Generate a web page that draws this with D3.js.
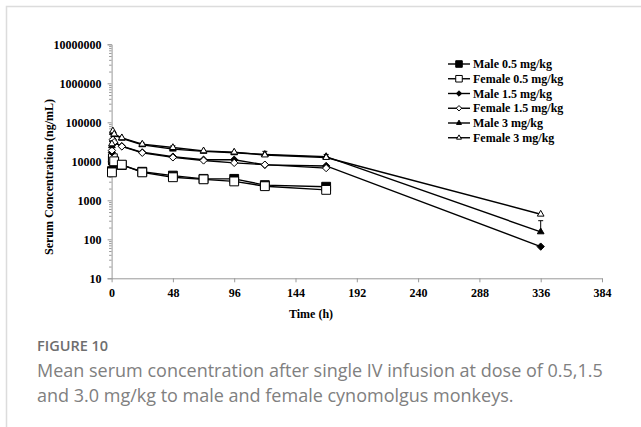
<!DOCTYPE html>
<html>
<head>
<meta charset="utf-8">
<script src="https://cdn.jsdelivr.net/npm/d3@7/dist/d3.min.js"></script>
<style>
  html, body { margin: 0; padding: 0; background: #fff; }
  svg { display: block; }
</style>
</head>
<body>
<svg id="chart" width="641" height="427"></svg>
<script>
// sampling times (h)
const times = [0.25, 1, 2, 8, 24, 48, 72, 96, 120, 168, 336];

// mean serum concentration (ng/mL)
const male05   = [5600, 10500, 9600, 8000, 5400, 4300, 3550, 3550, 2450, 2230];
const female05 = [5200, 12000, 10000, 8200, 5200, 3900, 3450, 3050, 2300, 1850];
const male15   = [17000, 33000, 30000, 24500, 17000, 13200, 11000, 11000, 8100, 7600, 65];
const female15 = [19000, 36000, 31000, 24000, 16500, 12600, 10500, 9100, 8200, 6700];
const male3    = [25000, 55000, 48000, 39000, 26500, 20500, 18000, 16500, 15000, 13200, 155];
const female3  = [28000, 60000, 50000, 40000, 27500, 22500, 18500, 17200, 14500, 12500, 440];

// upper SD bars that are visible (index into times -> SD)
const male3Sd   = { 4: 3000, 5: 2500, 8: 3000, 9: 1800, 10: 145 };
const female3Sd = { 5: 2500 };

const seriesNames = ['Male 0.5 mg/kg', 'Female 0.5 mg/kg', 'Male 1.5 mg/kg',
                     'Female 1.5 mg/kg', 'Male 3 mg/kg', 'Female 3 mg/kg'];
const seriesValues = [male05, female05, male15, female15, male3, female3];
const seriesShapes = ['square', 'square', 'diamond', 'diamond', 'triangle', 'triangle'];
const seriesFilled = [true, false, true, false, true, false];
const seriesSd = [null, null, null, null, male3Sd, female3Sd];

const xTicks = [0, 48, 96, 144, 192, 240, 288, 336, 384];
const yTicks = [10, 100, 1000, 10000, 100000, 1000000, 10000000];

const svg = d3.select('#chart');
const serif = '"Liberation Serif", "Times New Roman", serif';

// frame around the figure
svg.append('path')
  .attr('d', 'M6.5,427 L6.5,6.5 L641,6.5')
  .attr('fill', 'none')
  .attr('stroke', '#dcdcdc')
  .attr('stroke-width', 1.5);

const x = d3.scaleLinear().domain([0, 384]).range([111.6, 602]);
const y = d3.scaleLog().domain([10, 1e7]).range([278.3, 44.3]);

// minor log ticks
const minors = [];
yTicks.slice(0, -1).forEach(d => { for (let k = 2; k < 10; k++) minors.push(d * k); });

const gyMinor = svg.append('g')
  .attr('transform', `translate(${x(0)},0)`)
  .call(d3.axisLeft(y).tickValues(minors).tickSize(2.5).tickFormat(''));
gyMinor.select('.domain').remove();
gyMinor.selectAll('line').attr('stroke', '#999');

const gy = svg.append('g')
  .attr('transform', `translate(${x(0)},0)`)
  .call(d3.axisLeft(y).tickValues(yTicks).tickSize(4).tickPadding(6).tickFormat(d3.format('d')));
gy.select('.domain').attr('stroke', '#999');
gy.selectAll('line').attr('stroke', '#999');
gy.selectAll('text')
  .attr('font-family', serif).attr('font-weight', 'bold').attr('font-size', 12).attr('fill', '#000');

const gx = svg.append('g')
  .attr('transform', `translate(0,${y(10)})`)
  .call(d3.axisBottom(x).tickValues(xTicks).tickSize(4).tickPadding(6.5).tickSizeOuter(0));
gx.select('.domain').attr('stroke', '#999');
gx.selectAll('line').attr('stroke', '#999');
gx.selectAll('text')
  .attr('font-family', serif).attr('font-weight', 'bold').attr('font-size', 12).attr('fill', '#000');

// axis titles
svg.append('text')
  .attr('x', 311).attr('y', 318)
  .attr('text-anchor', 'middle')
  .attr('font-family', serif).attr('font-weight', 'bold').attr('font-size', 12)
  .text('Time (h)');

svg.append('text')
  .attr('transform', 'translate(53,177) rotate(-90)')
  .attr('text-anchor', 'middle')
  .attr('font-family', serif).attr('font-weight', 'bold').attr('font-size', 12)
  .text('Serum Concentration (ng/mL)');

// marker symbol generator
function symbolFor(shape, size) {
  const type = shape === 'square' ? d3.symbolSquare
             : shape === 'diamond' ? d3.symbolDiamond2
             : d3.symbolTriangle2;
  return d3.symbol().type(type).size(size)();
}
const markSize = { square: 78, diamond: 34, triangle: 32 };

const line = d3.line()
  .x(d => x(d.t))
  .y(d => y(d.v));

const plot = svg.append('g');

seriesValues.forEach((vals, i) => {
  const pts = vals.map((v, j) => ({ t: times[j], v }));

  plot.append('path')
    .datum(pts)
    .attr('d', line)
    .attr('fill', 'none')
    .attr('stroke', '#000')
    .attr('stroke-width', 1.4);

  const sd = seriesSd[i];
  if (sd) {
    Object.keys(sd).forEach(k => {
      const p = pts[+k];
      const y0 = y(p.v), y1 = y(p.v + sd[k]);
      plot.append('line')
        .attr('x1', x(p.t)).attr('x2', x(p.t))
        .attr('y1', y0).attr('y2', y1)
        .attr('stroke', '#000').attr('stroke-width', 1);
      plot.append('line')
        .attr('x1', x(p.t) - 2.5).attr('x2', x(p.t) + 2.5)
        .attr('y1', y1).attr('y2', y1)
        .attr('stroke', '#000').attr('stroke-width', 1);
    });
  }
});

seriesValues.forEach((vals, i) => {
  const pts = vals.map((v, j) => ({ t: times[j], v }));
  plot.append('g')
    .selectAll('path')
    .data(pts)
    .enter().append('path')
    .attr('transform', d => `translate(${x(d.t)},${y(d.v)})`)
    .attr('d', symbolFor(seriesShapes[i], markSize[seriesShapes[i]]))
    .attr('fill', seriesFilled[i] ? '#000' : '#fff')
    .attr('stroke', '#000')
    .attr('stroke-width', 1);
});

// legend
const legend = svg.append('g');
seriesNames.forEach((name, i) => {
  const ly = 64 + i * 14.75;
  legend.append('line')
    .attr('x1', 448).attr('x2', 470).attr('y1', ly).attr('y2', ly)
    .attr('stroke', '#000').attr('stroke-width', 1.4);
  legend.append('path')
    .attr('transform', `translate(459,${ly})`)
    .attr('d', symbolFor(seriesShapes[i], markSize[seriesShapes[i]] * 0.55))
    .attr('fill', seriesFilled[i] ? '#000' : '#fff')
    .attr('stroke', '#000').attr('stroke-width', 1);
  legend.append('text')
    .attr('x', 473).attr('y', ly).attr('dy', '0.35em')
    .attr('font-family', serif).attr('font-weight', 'bold').attr('font-size', 12)
    .text(name);
});

// caption
const sans = '"Open Sans", "Noto Sans", sans-serif';
svg.append('text')
  .attr('x', 37).attr('y', 350.5)
  .attr('font-family', sans).attr('font-weight', 600).attr('font-size', 14.5)
  .attr('fill', '#6e6e6e')
  .text('FIGURE 10');

const captionLines = [
  'Mean serum concentration after single IV infusion at dose of 0.5,1.5',
  'and 3.0 mg/kg to male and female cynomolgus monkeys.'
];
captionLines.forEach((t, i) => {
  svg.append('text')
    .attr('x', 37).attr('y', 377 + i * 25)
    .attr('font-family', sans).attr('font-size', 18)
    .attr('fill', '#808080')
    .text(t);
});
</script>
</body>
</html>
